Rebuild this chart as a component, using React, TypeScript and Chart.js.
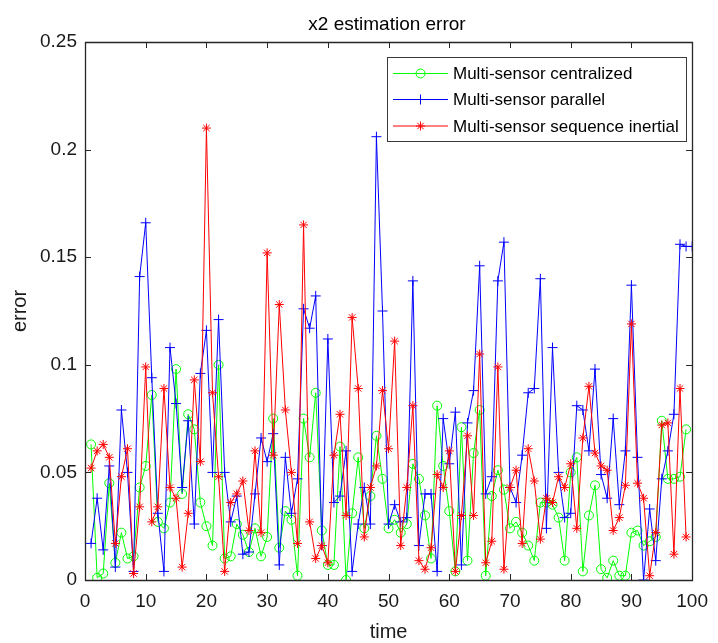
import React, { useEffect, useRef } from 'react';
import { Chart, registerables } from 'chart.js';

Chart.register(...registerables);

const chartTitle = 'x2 estimation error';
const xAxisTitle = 'time';
const yAxisTitle = 'error';
const xTicks = [0, 10, 20, 30, 40, 50, 60, 70, 80, 90, 100];
const yTicks = [0, 0.05, 0.1, 0.15, 0.2, 0.25];
const seriesNames = ['Multi-sensor centralized', 'Multi-sensor parallel', 'Multi-sensor sequence inertial'];
const seriesColors = ['#00ff00', '#0000ff', '#ff0000'];

const centralized = [
  0.063, 0.001, 0.003, 0.045, 0.008, 0.022, 0.010, 0.011, 0.043, 0.053,
  0.086, 0.027, 0.024, 0.036, 0.098, 0.040, 0.077, 0.070, 0.036, 0.025,
  0.016, 0.100, 0.010, 0.011, 0.026, 0.021, 0.013, 0.024, 0.011, 0.020,
  0.075, 0.015, 0.032, 0.028, 0.002, 0.075, 0.057, 0.087, 0.023, 0.007,
  0.007, 0.062, 0.000, 0.031, 0.057, 0.024, 0.039, 0.067, 0.047, 0.024,
  0.028, 0.022, 0.026, 0.054, 0.047, 0.030, 0.010, 0.081, 0.053, 0.032,
  0.004, 0.071, 0.009, 0.059, 0.079, 0.002, 0.039, 0.051, 0.042, 0.024,
  0.027, 0.022, 0.016, 0.009, 0.036, 0.036, 0.035, 0.029, 0.009, 0.050,
  0.057, 0.004, 0.030, 0.044, 0.005, 0.001, 0.009, 0.002, 0.002, 0.022,
  0.023, 0.016, 0.018, 0.020, 0.074, 0.047, 0.047, 0.048, 0.070,
];

const parallel = [
  0.017, 0.038, 0.014, 0.053, 0.006, 0.079, 0.050, 0.004, 0.141, 0.166,
  0.094, 0.031, 0.004, 0.108, 0.082, 0.043, 0.074, 0.026, 0.096, 0.116,
  0.050, 0.121, 0.050, 0.027, 0.039, 0.012, 0.013, 0.040, 0.066, 0.055,
  0.068, 0.007, 0.057, 0.031, 0.047, 0.126, 0.117, 0.132, 0.016, 0.112,
  0.036, 0.039, 0.060, 0.004, 0.026, 0.043, 0.026, 0.206, 0.125, 0.026,
  0.035, 0.027, 0.029, 0.139, 0.016, 0.040, 0.040, 0.004, 0.075, 0.054,
  0.078, 0.007, 0.073, 0.088, 0.146, 0.040, 0.048, 0.139, 0.157, 0.043,
  0.036, 0.058, 0.087, 0.089, 0.140, 0.024, 0.108, 0.050, 0.029, 0.031,
  0.081, 0.079, 0.060, 0.098, 0.049, 0.038, 0.075, 0.035, 0.060, 0.137,
  0.057, 0.000, 0.033, 0.009, 0.047, 0.060, 0.077, 0.156, 0.155, 0.155,
];

const sequenceInertial = [
  0.052, 0.060, 0.063, 0.057, 0.017, 0.048, 0.061, 0.003, 0.034, 0.099,
  0.027, 0.034, 0.089, 0.043, 0.038, 0.006, 0.031, 0.093, 0.055, 0.210,
  0.087, 0.048, 0.004, 0.036, 0.040, 0.046, 0.023, 0.060, 0.022, 0.152,
  0.058, 0.128, 0.079, 0.050, 0.017, 0.165, 0.027, 0.010, 0.016, 0.008,
  0.058, 0.077, 0.030, 0.122, 0.089, 0.020, 0.043, 0.053, 0.088, 0.061,
  0.111, 0.016, 0.043, 0.081, 0.009, 0.005, 0.015, 0.049, 0.043, 0.060,
  0.004, 0.030, 0.067, 0.030, 0.105, 0.008, 0.018, 0.099, 0.005, 0.043,
  0.051, 0.017, 0.061, 0.046, 0.019, 0.038, 0.036, 0.048, 0.043, 0.054,
  0.024, 0.066, 0.090, 0.059, 0.053, 0.051, 0.023, 0.029, 0.044, 0.119,
  0.045, 0.038, 0.002, 0.022, 0.072, 0.073, 0.012, 0.089, 0.020,
];

const FONT = '"Liberation Sans", Arial, Helvetica, sans-serif';
const AXIS_COLOR = '#262626';

function toPoints(values: number[]) {
  return values.map((v, i) => ({ x: i + 1, y: v }));
}

function drawMarker(ctx: CanvasRenderingContext2D, kind: string, x: number, y: number, color: string) {
  ctx.save();
  ctx.strokeStyle = color;
  ctx.lineWidth = 1;
  ctx.beginPath();
  if (kind === 'circle') {
    ctx.arc(x, y, 4.5, 0, Math.PI * 2);
  } else if (kind === 'cross') {
    ctx.moveTo(x - 5, y); ctx.lineTo(x + 5, y);
    ctx.moveTo(x, y - 5); ctx.lineTo(x, y + 5);
  } else {
    const r = 4.5;
    const d = r * Math.SQRT1_2;
    ctx.moveTo(x - r, y); ctx.lineTo(x + r, y);
    ctx.moveTo(x, y - r); ctx.lineTo(x, y + r);
    ctx.moveTo(x - d, y - d); ctx.lineTo(x + d, y + d);
    ctx.moveTo(x - d, y + d); ctx.lineTo(x + d, y - d);
  }
  ctx.stroke();
  ctx.restore();
}

const framePlugin = {
  id: 'matlabFrame',
  afterDatasetsDraw(chart: any) {
    const { ctx, chartArea: a, scales } = chart;
    const xs = scales.x;
    const ys = scales.y;
    ctx.save();
    ctx.strokeStyle = AXIS_COLOR;
    ctx.lineWidth = 1.3;
    ctx.beginPath();
    ctx.rect(Math.round(a.left) + 0.5, Math.round(a.top) + 0.5, Math.round(a.right - a.left), Math.round(a.bottom - a.top));
    ctx.stroke();
    ctx.lineWidth = 1;
    const tl = 6;
    ctx.beginPath();
    xTicks.forEach((v) => {
      const px = Math.round(xs.getPixelForValue(v)) + 0.5;
      ctx.moveTo(px, a.bottom); ctx.lineTo(px, a.bottom - tl);
      ctx.moveTo(px, a.top); ctx.lineTo(px, a.top + tl);
    });
    yTicks.forEach((v) => {
      const py = Math.round(ys.getPixelForValue(v)) + 0.5;
      ctx.moveTo(a.left, py); ctx.lineTo(a.left + tl, py);
      ctx.moveTo(a.right, py); ctx.lineTo(a.right - tl, py);
    });
    ctx.stroke();

    // title
    ctx.fillStyle = '#000000';
    ctx.font = '19px ' + FONT;
    ctx.textAlign = 'center';
    ctx.textBaseline = 'alphabetic';
    ctx.fillText(chartTitle, 387, 30);

    // legend box
    const lx = 387.5, ly = 57.5, lw = 299, lh = 84;
    ctx.fillStyle = '#ffffff';
    ctx.fillRect(lx, ly, lw, lh);
    ctx.strokeStyle = '#3a3a3a';
    ctx.lineWidth = 1;
    ctx.strokeRect(lx, ly, lw, lh);
    const rows = [73.5, 99.5, 126];
    const kinds = ['circle', 'cross', 'star'];
    ctx.font = '17px ' + FONT;
    ctx.textBaseline = 'middle';
    ctx.textAlign = 'left';
    seriesNames.forEach((name, i) => {
      const y = rows[i];
      ctx.strokeStyle = seriesColors[i];
      ctx.lineWidth = 1;
      ctx.beginPath();
      ctx.moveTo(393, y); ctx.lineTo(448, y);
      ctx.stroke();
      drawMarker(ctx, kinds[i], 420.5, y, seriesColors[i]);
      ctx.fillStyle = '#000000';
      ctx.fillText(name, 453, y + 1);
    });
    ctx.restore();
  },
};

export default function App() {
  const canvasRef = useRef<HTMLCanvasElement | null>(null);

  useEffect(() => {
    const canvas = canvasRef.current;
    if (!canvas) return;
    const chart = new Chart(canvas, {
      type: 'line',
      data: {
        datasets: [
          {
            label: seriesNames[2],
            data: toPoints(sequenceInertial),
            borderColor: seriesColors[2],
            backgroundColor: seriesColors[2],
            borderWidth: 1,
            pointStyle: 'star',
            pointRadius: 4.5,
            pointBorderWidth: 1,
            pointBorderColor: seriesColors[2],
            pointBackgroundColor: 'rgba(0,0,0,0)',
            tension: 0,
            order: 0,
          },
          {
            label: seriesNames[1],
            data: toPoints(parallel),
            borderColor: seriesColors[1],
            backgroundColor: seriesColors[1],
            borderWidth: 1,
            pointStyle: 'cross',
            pointRadius: 5,
            pointBorderWidth: 1,
            pointBorderColor: seriesColors[1],
            pointBackgroundColor: 'rgba(0,0,0,0)',
            tension: 0,
            order: 1,
          },
          {
            label: seriesNames[0],
            data: toPoints(centralized),
            borderColor: seriesColors[0],
            backgroundColor: seriesColors[0],
            borderWidth: 1,
            pointStyle: 'circle',
            pointRadius: 4.5,
            pointBorderWidth: 1,
            pointBorderColor: seriesColors[0],
            pointBackgroundColor: 'rgba(0,0,0,0)',
            tension: 0,
            order: 2,
          },
        ],
      },
      options: {
        responsive: false,
        animation: false,
        events: [],
        layout: { padding: { top: 42, right: 18, bottom: 0, left: 0 } },
        plugins: {
          legend: { display: false },
          tooltip: { enabled: false },
          title: { display: false },
        },
        scales: {
          x: {
            type: 'linear',
            min: 0,
            max: 100,
            afterFit: (s: any) => { s.height = 63; },
            afterBuildTicks: (s: any) => { s.ticks = xTicks.map((v) => ({ value: v })); },
            grid: { display: false, drawTicks: false },
            border: { display: false },
            ticks: {
              color: '#1a1a1a',
              padding: 10,
              maxRotation: 0,
              font: { family: FONT, size: 19 },
              callback: (v: any) => String(v),
            },
            title: {
              display: true,
              text: xAxisTitle,
              color: '#1a1a1a',
              font: { family: FONT, size: 20, lineHeight: 1.1 },
              padding: { top: 0, bottom: 0 },
            },
          },
          y: {
            type: 'linear',
            min: 0,
            max: 0.25,
            afterFit: (s: any) => { s.width = 85; },
            afterBuildTicks: (s: any) => { s.ticks = yTicks.map((v) => ({ value: v })); },
            grid: { display: false, drawTicks: false },
            border: { display: false },
            ticks: {
              color: '#1a1a1a',
              padding: 8,
              font: { family: FONT, size: 19 },
              callback: (v: any) => String(+Number(v).toFixed(2)),
            },
            title: {
              display: true,
              text: yAxisTitle,
              color: '#1a1a1a',
              font: { family: FONT, size: 20, lineHeight: 1.1 },
              padding: { top: 9, bottom: 0 },
            },
          },
        },
      },
      plugins: [framePlugin],
    });
    return () => chart.destroy();
  }, []);

  return (
    <div style={{ position: 'absolute', left: 0, top: 0, width: 718, height: 643, background: '#ffffff' }}>
      <canvas ref={canvasRef} width={718} height={643} style={{ display: 'block' }} />
    </div>
  );
}
